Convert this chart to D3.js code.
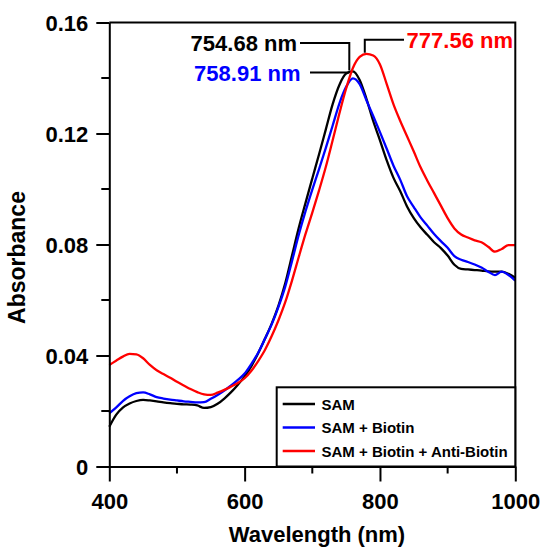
<!DOCTYPE html>
<html>
<head>
<meta charset="utf-8">
<script src="https://cdn.jsdelivr.net/npm/d3@7"></script>
<style>
  html, body { margin: 0; padding: 0; background: #fff; }
  svg { display: block; font-family: "Liberation Sans", Arial, sans-serif; font-weight: bold; }
</style>
</head>
<body>
<div id="chart"></div>
<script>
// wavelength grid (nm)
const wavelengths = d3.range(400, 1001, 10);

const samValues = [
  0.0143, 0.0186, 0.0212, 0.0227, 0.0236, 0.0240, 0.0238, 0.0235, 0.0231, 0.0228,
  0.0226, 0.0224, 0.0223, 0.0220, 0.0211, 0.0214, 0.0226, 0.0245, 0.0268, 0.0295,
  0.0325, 0.0362, 0.0408, 0.0460, 0.0515, 0.0580, 0.0660, 0.0760, 0.0860, 0.0950,
  0.1038, 0.1125, 0.1215, 0.1305, 0.1375, 0.1416, 0.1424, 0.1393, 0.1325, 0.1245,
  0.1175, 0.1103, 0.1040, 0.0992, 0.0937, 0.0895, 0.0862, 0.0835, 0.0808, 0.0787,
  0.0760, 0.0727, 0.0712, 0.0710, 0.0708, 0.0706, 0.0703, 0.0702, 0.0702, 0.0694,
  0.0680
];

const biotinValues = [
  0.0192, 0.0212, 0.0236, 0.0253, 0.0264, 0.0267, 0.0260, 0.0250, 0.0245, 0.0241,
  0.0238, 0.0235, 0.0233, 0.0231, 0.0232, 0.0244, 0.0258, 0.0274, 0.0292, 0.0312,
  0.0335, 0.0370, 0.0410, 0.0460, 0.0512, 0.0575, 0.0648, 0.0740, 0.0835, 0.0920,
  0.0998, 0.1072, 0.1148, 0.1228, 0.1308, 0.1368, 0.1399, 0.1378, 0.1320, 0.1263,
  0.1205, 0.1145, 0.1084, 0.1033, 0.0974, 0.0935, 0.0898, 0.0868, 0.0838, 0.0812,
  0.0788, 0.0758, 0.0745, 0.0737, 0.0728, 0.0717, 0.0702, 0.0690, 0.0702, 0.0690,
  0.0670
];

const antiBiotinValues = [
  0.0366, 0.0381, 0.0396, 0.0406, 0.0404, 0.0390, 0.0366, 0.0347, 0.0333, 0.0320,
  0.0305, 0.0292, 0.0279, 0.0268, 0.0260, 0.0258, 0.0266, 0.0276, 0.0288, 0.0301,
  0.0318, 0.0345, 0.0380, 0.0420, 0.0470, 0.0527, 0.0592, 0.0670, 0.0755, 0.0838,
  0.0915, 0.0995, 0.1080, 0.1175, 0.1272, 0.1362, 0.1436, 0.1476, 0.1487, 0.1481,
  0.1449, 0.1378, 0.1305, 0.1245, 0.1190, 0.1135, 0.1078, 0.1030, 0.0985, 0.0940,
  0.0895, 0.0858, 0.0836, 0.0825, 0.0815, 0.0808, 0.0792, 0.0774, 0.0784, 0.0798,
  0.0798
];

const seriesNames = ["SAM", "SAM + Biotin", "SAM + Biotin + Anti-Biotin"];
const seriesColors = ["#000000", "#0000ff", "#ff0000"];

const xTicks = [400, 600, 800, 1000];
const xMinorTicks = [500, 700, 900];
const yTicks = [0, 0.04, 0.08, 0.12, 0.16];
const yMinorTicks = [0.02, 0.06, 0.10, 0.14];

// peak labels
const peakWavelengths = [754.68, 758.91, 777.56];
const peakAbsorbance = [0.1427, 0.1427, 0.1487];
const peakLabels = ["754.68 nm", "758.91 nm", "777.56 nm"];

const width = 542;
const height = 548;
const margin = { top: 22.5, right: 26.7, bottom: 81.5, left: 109.3 };

const svg = d3.select("#chart").append("svg")
  .attr("width", width)
  .attr("height", height);

const x = d3.scaleLinear().domain([400, 1000]).range([margin.left, width - margin.right]);
const y = d3.scaleLinear().domain([0, 0.16]).range([height - margin.bottom, margin.top]);

const allSeries = [samValues, biotinValues, antiBiotinValues].map((vals, i) => ({
  name: seriesNames[i],
  color: seriesColors[i],
  points: wavelengths.map((w, j) => [w, vals[j]]),
}));

const line = d3.line()
  .x((d) => x(d[0]))
  .y((d) => y(d[1]))
  .curve(d3.curveMonotoneX);

// curves
svg.append("g")
  .selectAll("path")
  .data(allSeries)
  .join("path")
  .attr("fill", "none")
  .attr("stroke", (d) => d.color)
  .attr("stroke-width", 2.3)
  .attr("stroke-linejoin", "round")
  .attr("d", (d) => line(d.points));

// frame (top and right)
svg.append("path")
  .attr("fill", "none")
  .attr("stroke", "#000")
  .attr("stroke-width", 2)
  .attr("d", `M${x(400)},${y(0.16)}H${x(1000)}V${y(0)}`);

// axes
const xAxis = svg.append("g")
  .attr("transform", `translate(0,${y(0)})`)
  .call(d3.axisBottom(x).tickValues(xTicks).tickSize(15).tickPadding(12).tickFormat(d3.format("d")).tickSizeOuter(0));
xAxis.append("g").selectAll("line")
  .data(xMinorTicks)
  .join("line")
  .attr("x1", (d) => x(d)).attr("x2", (d) => x(d))
  .attr("y1", 0).attr("y2", 7)
  .attr("stroke", "#000");

const yAxis = svg.append("g")
  .attr("transform", `translate(${x(400)},0)`)
  .call(d3.axisLeft(y).tickValues(yTicks).tickSize(13).tickPadding(8)
    .tickFormat((d) => (d === 0 ? "0" : d3.format(".2f")(d))).tickSizeOuter(0));
yAxis.append("g").selectAll("line")
  .data(yMinorTicks)
  .join("line")
  .attr("y1", (d) => y(d)).attr("y2", (d) => y(d))
  .attr("x1", 0).attr("x2", -8)
  .attr("stroke", "#000");

[xAxis, yAxis].forEach((g) => {
  g.selectAll("path, line").attr("stroke", "#000").attr("stroke-width", 2);
  g.selectAll("text")
    .attr("fill", "#000")
    .style("font-family", '"Liberation Sans", Arial, sans-serif')
    .style("font-weight", "bold")
    .style("font-size", "22px");
});
yAxis.selectAll("text").attr("dy", "0.36em");
xAxis.selectAll(".tick text").attr("dy", "0.71em");

// axis titles
svg.append("text")
  .attr("x", 317)
  .attr("y", 542)
  .attr("text-anchor", "middle")
  .attr("font-size", 22)
  .text("Wavelength (nm)");

svg.append("text")
  .attr("transform", "translate(25,257.5) rotate(-90)")
  .attr("text-anchor", "middle")
  .attr("font-size", 23)
  .text("Absorbance");

// peak annotations
const leaders = [
  `M${x(peakWavelengths[0])},${y(peakAbsorbance[0])}V43H300`,
  `M${x(peakWavelengths[1]) - 3},${y(peakAbsorbance[1]) + 2}H310`,
  `M${x(peakWavelengths[2])},${y(peakAbsorbance[2]) - 1}V39.7H404`,
];
svg.append("g")
  .selectAll("path")
  .data(leaders)
  .join("path")
  .attr("fill", "none")
  .attr("stroke", "#000")
  .attr("stroke-width", 2)
  .attr("d", (d) => d);

const labelPos = [[297, 51], [300.5, 80.5], [513, 48]];
svg.append("g")
  .selectAll("text")
  .data(peakLabels)
  .join("text")
  .attr("x", (d, i) => labelPos[i][0])
  .attr("y", (d, i) => labelPos[i][1])
  .attr("text-anchor", "end")
  .attr("font-size", 22)
  .attr("fill", (d, i) => seriesColors[i])
  .text((d) => d);

// legend
const legend = svg.append("g");
legend.append("rect")
  .attr("x", 276.7)
  .attr("y", 387.3)
  .attr("width", x(1000) - 276.7)
  .attr("height", y(0) - 387.3)
  .attr("fill", "#fff")
  .attr("stroke", "#000")
  .attr("stroke-width", 2);

const rows = legend.selectAll("g.row")
  .data(allSeries)
  .join("g")
  .attr("class", "row")
  .attr("transform", (d, i) => `translate(0,${404 + i * 23.5})`);
rows.append("line")
  .attr("x1", 282.7).attr("x2", 315)
  .attr("stroke", (d) => d.color)
  .attr("stroke-width", 2.5);
rows.append("text")
  .attr("x", 321.5)
  .attr("y", 5.5)
  .attr("font-size", 15)
  .text((d) => d.name);
</script>
</body>
</html>
